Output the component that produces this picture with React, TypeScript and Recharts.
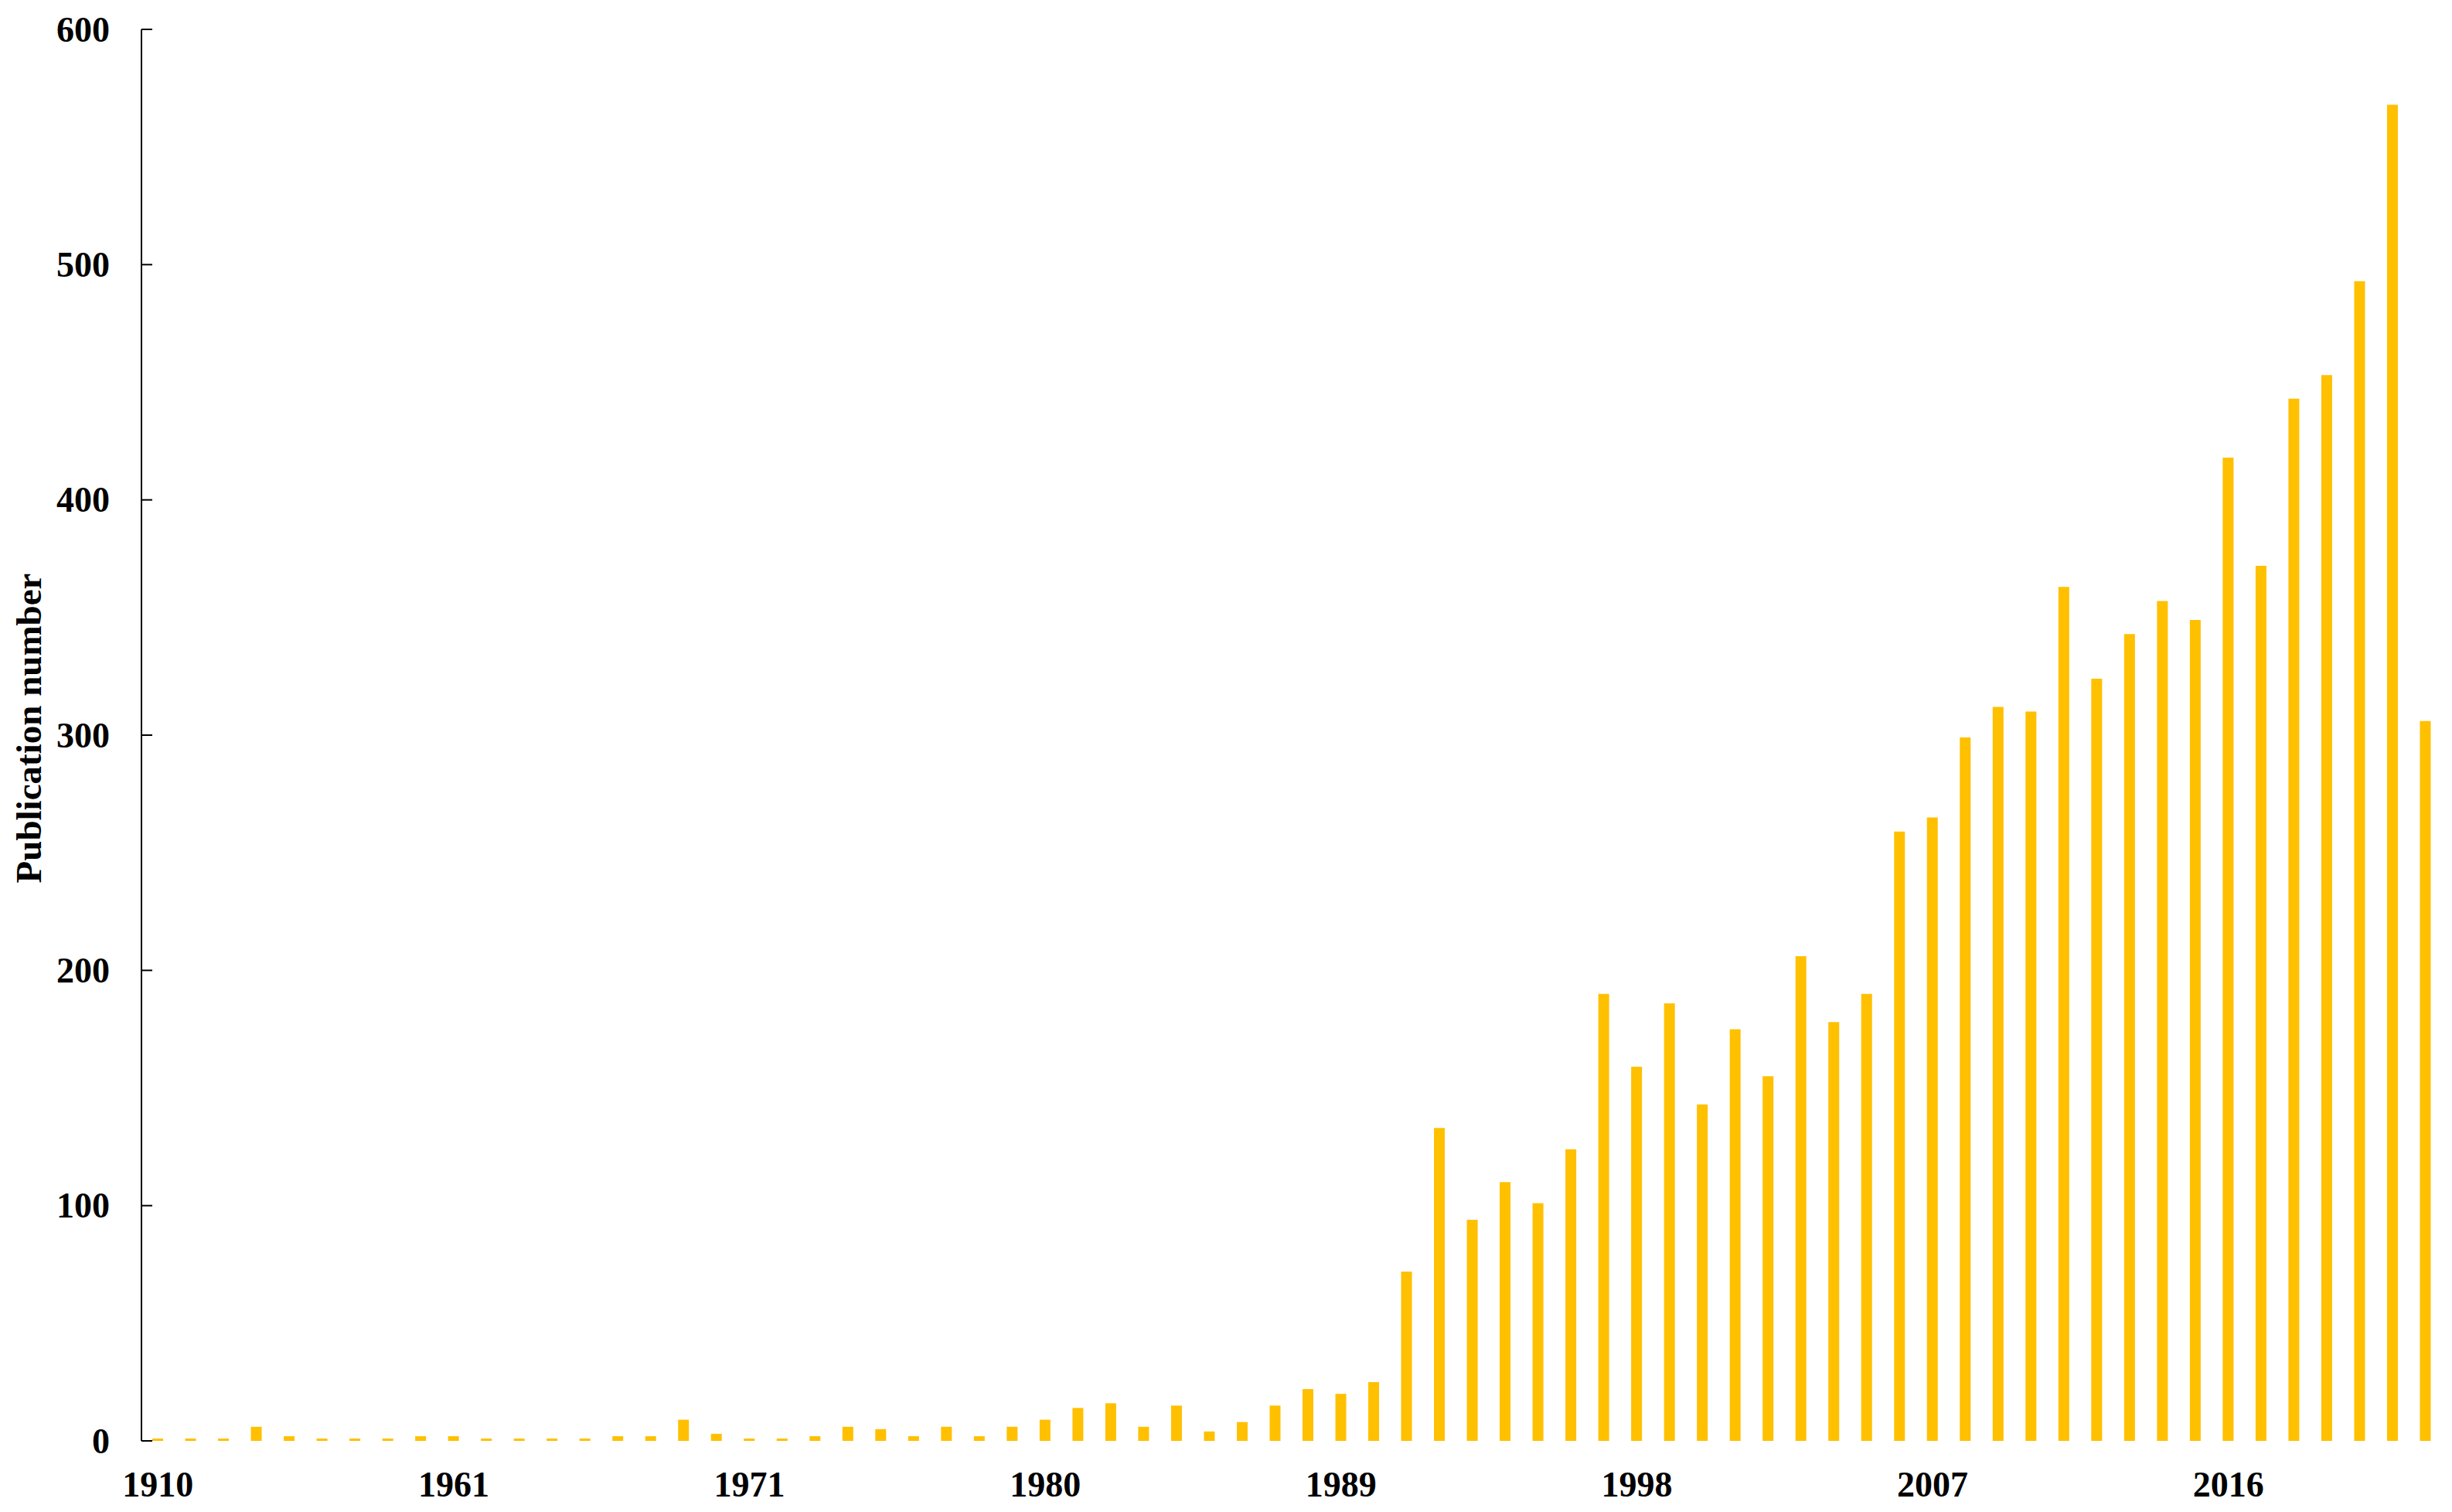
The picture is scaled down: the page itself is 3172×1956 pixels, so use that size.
import React from "react";
import { BarChart, Bar, XAxis, YAxis, Label } from "recharts";

document.body.style.margin = "0";

const FONT = '"Times New Roman", "Liberation Serif", serif';

// years on the category axis (only every 9th is labelled)
const years = [
  "1910", "1915", "1922", "1930", "1937", "1948", "1952", "1956", "1959",
  "1961", "1962", "1963", "1964", "1965", "1966", "1967", "1968", "1970",
  "1971", "1972", "1973", "1974", "1975", "1976", "1977", "1978", "1979",
  "1980", "1981", "1982", "1983", "1984", "1985", "1986", "1987", "1988",
  "1989", "1990", "1991", "1992", "1993", "1994", "1995", "1996", "1997",
  "1998", "1999", "2000", "2001", "2002", "2003", "2004", "2005", "2006",
  "2007", "2008", "2009", "2010", "2011", "2012", "2013", "2014", "2015",
  "2016", "2017", "2018", "2019", "2020", "2021", "2022",
];

const publications = [
  1, 1, 1, 6, 2, 1, 1, 1, 2,
  2, 1, 1, 1, 1, 2, 2, 9, 3,
  1, 1, 2, 6, 5, 2, 6, 2, 6,
  9, 14, 16, 6, 15, 4, 8, 15, 22,
  20, 25, 72, 133, 94, 110, 101, 124, 190,
  159, 186, 143, 175, 155, 206, 178, 190, 259,
  265, 299, 312, 310, 363, 324, 343, 357, 349,
  418, 372, 443, 453, 493, 568, 306,
];

const yTicks = [0, 100, 200, 300, 400, 500, 600];

const data = years.map((year, i) => ({ year, count: publications[i] }));

const YTick = ({ x, y, payload }: any) => (
  <g>
    <line x1={x} x2={x + 14} y1={y} y2={y} stroke="#000" strokeWidth={2} />
    <text
      x={x - 41}
      y={y}
      textAnchor="end"
      dominantBaseline="central"
      fontFamily={FONT}
      fontWeight="bold"
      fontSize={46}
      fill="#000"
    >
      {payload.value}
    </text>
  </g>
);

export default function App() {
  return (
    <div style={{ width: 3172, height: 1956, background: "#fff" }}>
      <BarChart
        width={3172}
        height={1956}
        data={data}
        margin={{ top: 38, right: 13, left: 0, bottom: 12 }}
      >
        <XAxis
          dataKey="year"
          interval={8}
          axisLine={false}
          tickLine={false}
          tickSize={0}
          tickMargin={39}
          height={80}
          tick={{ fontSize: 46, fontWeight: "bold", fill: "#000", fontFamily: FONT }}
        />
        <YAxis
          domain={[0, 600]}
          ticks={yTicks}
          width={183}
          tickSize={0}
          tickMargin={0}
          tickLine={false}
          axisLine={{ stroke: "#000", strokeWidth: 2 }}
          tick={<YTick />}
        >
          <Label
            content={() => (
              <text
                x={37}
                y={942}
                transform="rotate(-90 37 942)"
                textAnchor="middle"
                dominantBaseline="central"
                fontFamily={FONT}
                fontWeight="bold"
                fontSize={47}
                fill="#000"
              >
                Publication number
              </text>
            )}
          />
        </YAxis>
        <Bar dataKey="count" fill="#FFC000" barSize={14} isAnimationActive={false} />
      </BarChart>
    </div>
  );
}
